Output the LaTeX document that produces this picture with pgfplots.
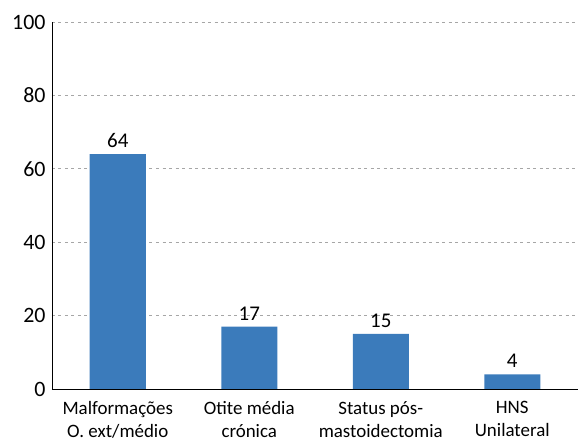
\documentclass[border=0pt]{standalone}
\usepackage{fontspec}
\setmainfont{Carlito}
\usepackage{pgfplots}
\pgfplotsset{compat=1.18}
\definecolor{barblue}{HTML}{3B7BBB}
\definecolor{gridgray}{HTML}{A6A6A6}

\begin{document}
\begin{tikzpicture}
\begin{axis}[
  scale only axis, width=526bp, height=367bp,
  ymin=0, ymax=100, ytick={0,20,...,100},
  xmin=-0.5, xmax=3.5, xtick=data,
  xticklabels={{Malformações\\O. ext/médio},{Otite média\\crónica},{Status pós-\\mastoidectomia},{HNS\\Unilateral}},
  xticklabel style={align=center, font=\fontsize{19}{23}\selectfont, yshift=-9bp},
  yticklabel style={font=\fontsize{22}{26}\selectfont, xshift=-3bp},
  /pgf/number format/assume math mode=true,
  axis x line*=bottom, axis y line*=left,
  axis line style={black, line width=0.9pt},
  major tick length=0pt,
  ymajorgrids, grid style={gridgray, dash pattern=on 3bp off 3.5bp, line width=0.8pt},
  ybar, bar width=56bp,
  nodes near coords,
  every node near coord/.append style={font=\fontsize{21}{25}\selectfont, black, yshift=3bp},
]
\addplot[fill=barblue, draw=none] coordinates {(0,64) (1,17) (2,15) (3,4)};
\end{axis}
\path[use as bounding box] (-52bp,-48bp) rectangle (527bp,389bp);
\end{tikzpicture}
\end{document}
